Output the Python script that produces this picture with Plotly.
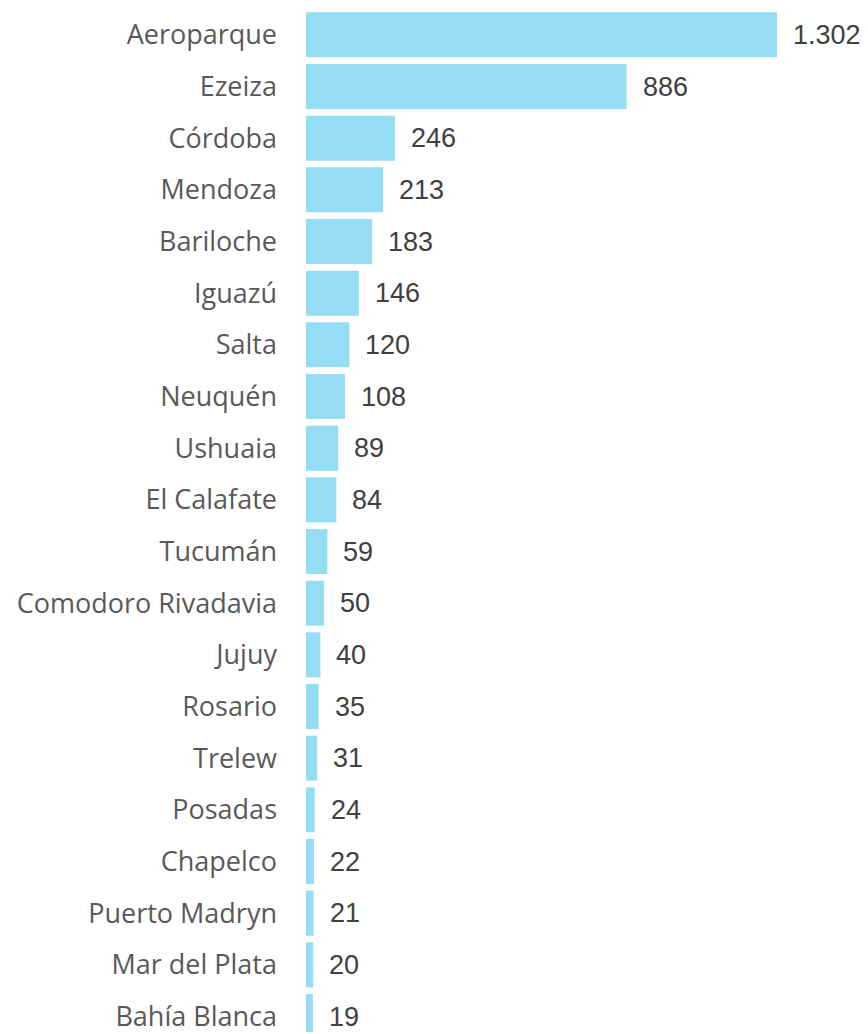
import plotly.graph_objects as go

airports = ["Aeroparque", "Ezeiza", "Córdoba", "Mendoza", "Bariloche", "Iguazú", "Salta",
            "Neuquén", "Ushuaia", "El Calafate", "Tucumán", "Comodoro Rivadavia", "Jujuy",
            "Rosario", "Trelew", "Posadas", "Chapelco", "Puerto Madryn", "Mar del Plata",
            "Bahía Blanca"]
values = [1302, 886, 246, 213, 183, 146, 120, 108, 89, 84, 59, 50, 40, 35, 31, 24, 22, 21, 20, 19]
value_labels = ["1.302", "886", "246", "213", "183", "146", "120", "108", "89", "84", "59",
                "50", "40", "35", "31", "24", "22", "21", "20", "19"]

fig = go.Figure(go.Bar(
    x=values, y=airports, orientation="h",
    marker=dict(color="#94DDF5", line=dict(width=0)),
    hoverinfo="skip",
))

for a, v, t in zip(airports, values, value_labels):
    fig.add_annotation(x=v, y=a, text=t, xanchor="left", yanchor="middle",
                       xshift=14, showarrow=False,
                       font=dict(family="Liberation Sans, Arial", size=27, color="#404040"))

fig.update_layout(
    width=860, height=1026,
    margin=dict(l=298, r=0, t=1, b=0),
    paper_bgcolor="white", plot_bgcolor="white",
    bargap=0.13, showlegend=False,
    xaxis=dict(range=[0, 1553.5], visible=False, fixedrange=True),
    yaxis=dict(range=[19.3, -0.5], categoryorder="array", categoryarray=airports,
               showgrid=False, zeroline=False, showline=False, ticks="",
               ticklabelstandoff=28,
               tickfont=dict(family="Open Sans", size=27, color="#595959")),
)

fig.write_html("out.html")
